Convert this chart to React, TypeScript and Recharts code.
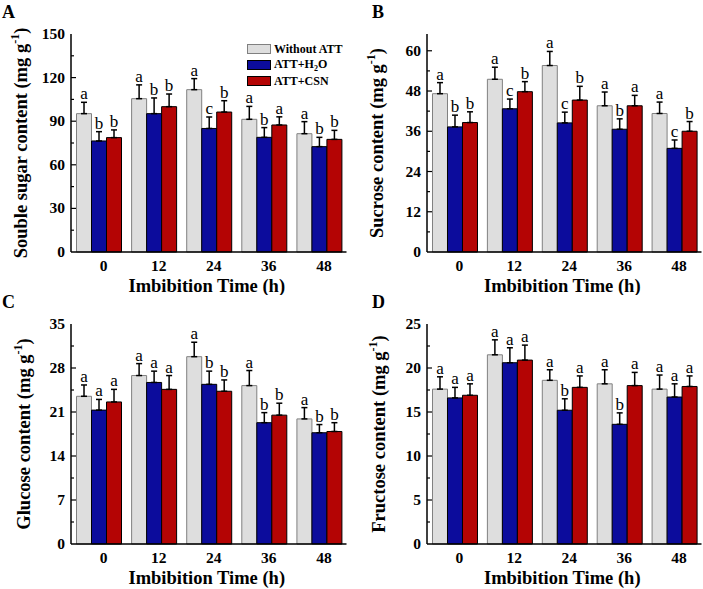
import React from "react";
import {
  BarChart,
  Bar,
  XAxis,
  YAxis,
  ErrorBar,
  LabelList,
  Label,
  Legend,
} from "recharts";

const FONT = "'Liberation Serif', 'Times New Roman', serif";
const GRAY = "#dedede";
const BLUE = "#0c0c9c";
const RED = "#b40404";

const times = ["0", "12", "24", "36", "48"];
const seriesNames = ["Without ATT", "ATT+H2O", "ATT+CSN"];

// A - soluble sugar
const ssWithout = [95.2, 105.5, 111.7, 91.3, 81.4];
const ssWithoutErr = [7.8, 9.5, 7.6, 8.9, 8.3];
const ssH2O = [76.4, 95.2, 85.0, 78.9, 72.5];
const ssH2OErr = [6.4, 10.8, 7.9, 6.7, 6.4];
const ssCSN = [78.7, 100.0, 96.3, 87.4, 77.5];
const ssCSNErr = [5.3, 8.7, 7.8, 5.6, 6.2];
const ssLetters = [
  ["a", "a", "a", "a", "a"],
  ["b", "b", "c", "b", "b"],
  ["b", "b", "b", "a", "b"],
];
const ssTicks = [0, 15, 30, 45, 60, 75, 90, 105, 120, 135, 150];

// B - sucrose
const suWithout = [47.2, 51.5, 55.6, 43.6, 41.3];
const suWithoutErr = [3.3, 3.6, 4.2, 4.1, 3.4];
const suH2O = [37.3, 42.7, 38.5, 36.6, 30.9];
const suH2OErr = [3.5, 2.9, 3.2, 3.1, 2.5];
const suCSN = [38.6, 47.8, 45.3, 43.6, 36.0];
const suCSNErr = [3.2, 3.0, 4.1, 3.1, 2.9];
const suLetters = [
  ["a", "a", "a", "a", "a"],
  ["b", "c", "c", "b", "c"],
  ["b", "b", "b", "a", "b"],
];
const suTicks = [0, 6, 12, 18, 24, 30, 36, 42, 48, 54, 60];

// C - glucose
const glWithout = [23.5, 26.8, 29.8, 25.2, 19.9];
const glWithoutErr = [1.8, 1.9, 2.3, 2.4, 1.8];
const glH2O = [21.3, 25.7, 25.4, 19.3, 17.7];
const glH2OErr = [1.7, 1.8, 2.1, 1.6, 1.3];
const glCSN = [22.6, 24.6, 24.3, 20.5, 17.9];
const glCSNErr = [2.0, 2.2, 1.8, 1.9, 1.4];
const glLetters = [
  ["a", "a", "a", "a", "a"],
  ["a", "a", "b", "b", "b"],
  ["a", "a", "b", "b", "b"],
];
const glTicks = [0, 3.5, 7, 10.5, 14, 17.5, 21, 24.5, 28, 31.5, 35];

// D - fructose
const frWithout = [17.6, 21.5, 18.6, 18.2, 17.6];
const frWithoutErr = [1.4, 1.7, 1.2, 1.6, 1.6];
const frH2O = [16.6, 20.6, 15.2, 13.6, 16.7];
const frH2OErr = [1.2, 1.7, 1.3, 1.3, 1.5];
const frCSN = [16.9, 20.9, 17.8, 18.0, 17.9];
const frCSNErr = [1.3, 1.7, 1.3, 1.5, 1.2];
const frLetters = [
  ["a", "a", "a", "a", "a"],
  ["a", "a", "b", "b", "a"],
  ["a", "a", "a", "a", "a"],
];
const frTicks = [0, 2.5, 5, 7.5, 10, 12.5, 15, 17.5, 20, 22.5, 25];

type PanelProps = {
  tag: string;
  title: string;
  vals: number[][];
  errs: number[][];
  letters: string[][];
  ticks: number[];
  major: number;
  max: number;
  left: number;
  top: number;
  width: number;
  height: number;
  yWidth: number;
  xHeight: number;
  yLabelX: number;
  legend?: boolean;
};

const letterContent =
  (vals: number[], errs: number[], lets: string[]) => (p: any) => {
    const i = p.index;
    const x = Number(p.x);
    const y = Number(p.y);
    const w = Number(p.width);
    const h = Number(p.height);
    const k = h / vals[i];
    const topY = y - errs[i] * k;
    return (
      <text
        x={x + w / 2}
        y={topY - 3}
        textAnchor="middle"
        fontFamily={FONT}
        fontSize={17}
        fill="#000"
      >
        {lets[i]}
      </text>
    );
  };

const legendLabel = (name: string) =>
  name === "ATT+H2O" ? (
    <span>
      ATT+H<sub style={{ fontSize: 8 }}>2</sub>O
    </span>
  ) : (
    name
  );

function LegendBox({ payload }: any) {
  const items = [...(payload || [])].sort(
    (a: any, b: any) =>
      seriesNames.indexOf(a.value) - seriesNames.indexOf(b.value)
  );
  return (
    <div style={{ fontFamily: FONT, fontWeight: "bold", fontSize: 12 }}>
      {items.map((e: any) => (
        <div
          key={e.value}
          style={{ display: "flex", alignItems: "center", height: 16 }}
        >
          <div
            style={{
              width: 24,
              height: 10,
              background: e.payload?.fill ?? e.color,
              border: "1px solid " + (e.payload?.stroke ?? "#000"),
              boxSizing: "border-box",
              marginRight: 3,
            }}
          />
          {legendLabel(e.value)}
        </div>
      ))}
    </div>
  );
}

function Panel(props: PanelProps) {
  const { vals, errs, letters, major } = props;
  const data = times.map((t, i) => ({
    t,
    s0: vals[0][i],
    s1: vals[1][i],
    s2: vals[2][i],
    e0: [0, errs[0][i]],
    e1: [0, errs[1][i]],
    e2: [0, errs[2][i]],
  }));
  const fills = [GRAY, BLUE, RED];
  const strokes = ["#808080", "#000", "#000"];

  const yTick = (p: any) => {
    const v = p.payload.value;
    const isMajor = Math.abs(v / major - Math.round(v / major)) < 1e-6;
    const ax = p.x + 6;
    return (
      <g>
        {v !== 0 && v !== props.max && (
          <line
            x1={ax}
            x2={ax + (isMajor ? 5 : 3)}
            y1={p.y}
            y2={p.y}
            stroke="#000"
            strokeWidth={1.2}
          />
        )}
        {isMajor && (
          <text
            x={p.x}
            y={p.y}
            dy={5}
            textAnchor="end"
            fontFamily={FONT}
            fontWeight="bold"
            fontSize={15.5}
            fill="#000"
          >
            {v}
          </text>
        )}
      </g>
    );
  };

  const xTick = (p: any) => (
    <text
      x={p.x + 5}
      y={p.y}
      dy={19}
      textAnchor="middle"
      fontFamily={FONT}
      fontWeight="bold"
      fontSize={15.5}
      fill="#000"
    >
      {p.payload.value}
    </text>
  );

  const yTitle = (p: any) => {
    const vb = p.viewBox || {};
    const cx = props.yLabelX;
    const cy = (vb.y ?? 34) + (vb.height ?? 218) / 2;
    return (
      <text
        transform={`translate(${cx},${cy}) rotate(-90)`}
        textAnchor="middle"
        fontFamily={FONT}
        fontWeight="bold"
        fontSize={18.5}
        fill="#000"
      >
        {props.title} (mg g
        <tspan dy={-8} fontSize={12}>
          -1
        </tspan>
        <tspan dy={8}>)</tspan>
      </text>
    );
  };

  const xTitle = (p: any) => {
    const vb = p.viewBox || {};
    return (
      <text
        x={vb.x + vb.width / 2 - 2}
        y={vb.y + 40}
        textAnchor="middle"
        fontFamily={FONT}
        fontWeight="bold"
        fontSize={18.5}
        fill="#000"
      >
        Imbibition Time (h)
      </text>
    );
  };

  return (
    <div
      style={{
        position: "absolute",
        left: props.left,
        top: props.top,
        width: props.width,
        height: props.height,
      }}
    >
      <div
        style={{
          position: "absolute",
          left: props.tag === "A" || props.tag === "C" ? 2 : 21,
          top: 2,
          fontFamily: FONT,
          fontWeight: "bold",
          fontSize: 18,
        }}
      >
        {props.tag}
      </div>
      <BarChart
        width={props.width}
        height={props.height}
        data={data}
        margin={{ top: 34, right: 1.5, left: 0, bottom: 0 }}
        barCategoryGap="10%"
        barGap={0}
      >
        <XAxis
          dataKey="t"
          height={props.xHeight}
          axisLine={{ stroke: "#000", strokeWidth: 1.5 }}
          tickLine={false}
          tickSize={0}
          tickMargin={0}
          tick={xTick}
          interval={0}
        >
          <Label content={xTitle} />
        </XAxis>
        <XAxis
          xAxisId="top"
          dataKey="t"
          orientation="top"
          height={0}
          tick={false}
          tickLine={false}
          axisLine={{ stroke: "#000", strokeWidth: 1.5 }}
        />
        <YAxis
          width={props.yWidth}
          domain={[0, props.max]}
          ticks={props.ticks}
          interval={0}
          axisLine={{ stroke: "#000", strokeWidth: 1.5 }}
          tickLine={false}
          tickSize={0}
          tickMargin={6}
          tick={yTick}
        >
          <Label content={yTitle} />
        </YAxis>
        <YAxis
          yAxisId="right"
          orientation="right"
          width={0}
          tick={false}
          tickLine={false}
          axisLine={{ stroke: "#000", strokeWidth: 1.5 }}
        />
        {props.legend && (
          <Legend
            layout="horizontal"
            verticalAlign="middle"
            align="center"
            wrapperStyle={{ top: 41, left: 247, width: 100, height: 50 }}
            content={<LegendBox />}
          />
        )}
        {[0, 1, 2].map((s) => (
          <Bar
            key={s}
            dataKey={"s" + s}
            name={seriesNames[s]}
            fill={fills[s]}
            stroke={strokes[s]}
            strokeWidth={1}
            isAnimationActive={false}
          >
            <ErrorBar
              dataKey={"e" + s}
              width={3}
              stroke="#000"
              strokeWidth={1.5}
              direction="y"
            />
            <LabelList
              dataKey={"s" + s}
              content={letterContent(vals[s], errs[s], letters[s])}
            />
          </Bar>
        ))}
      </BarChart>
    </div>
  );
}

export default function App() {
  return (
    <div
      style={{
        position: "absolute",
        left: 0,
        top: 0,
        width: 703,
        height: 589,
        background: "#fff",
      }}
    >
      <Panel
        tag="A"
        title="Souble sugar content"
        vals={[ssWithout, ssH2O, ssCSN]}
        errs={[ssWithoutErr, ssH2OErr, ssCSNErr]}
        letters={ssLetters}
        ticks={ssTicks}
        major={30}
        max={150}
        left={0}
        top={0}
        width={348}
        height={295}
        yWidth={71}
        xHeight={43}
        yLabelX={27}
        legend
      />
      <Panel
        tag="B"
        title="Sucrose content"
        vals={[suWithout, suH2O, suCSN]}
        errs={[suWithoutErr, suH2OErr, suCSNErr]}
        letters={suLetters}
        ticks={suTicks}
        major={12}
        max={65}
        left={351}
        top={0}
        width={352}
        height={295}
        yWidth={76}
        xHeight={43}
        yLabelX={32}
      />
      <Panel
        tag="C"
        title="Glucose content"
        vals={[glWithout, glH2O, glCSN]}
        errs={[glWithoutErr, glH2OErr, glCSNErr]}
        letters={glLetters}
        ticks={glTicks}
        major={7}
        max={35}
        left={0}
        top={290}
        width={348}
        height={299}
        yWidth={71}
        xHeight={45}
        yLabelX={30}
      />
      <Panel
        tag="D"
        title="Fructose content"
        vals={[frWithout, frH2O, frCSN]}
        errs={[frWithoutErr, frH2OErr, frCSNErr]}
        letters={frLetters}
        ticks={frTicks}
        major={5}
        max={25}
        left={351}
        top={290}
        width={352}
        height={299}
        yWidth={76}
        xHeight={45}
        yLabelX={34}
      />
    </div>
  );
}
